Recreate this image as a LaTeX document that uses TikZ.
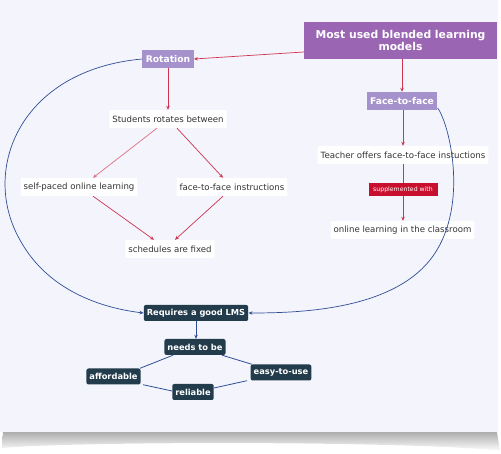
\documentclass[tikz,border=0pt]{standalone}
\usepackage{fontspec}
\setmainfont{DejaVu Sans}
\usetikzlibrary{arrows.meta,positioning}
\definecolor{bgpanel}{HTML}{F3F4FC}
\definecolor{titlepurple}{HTML}{9A66B4}
\definecolor{subpurple}{HTML}{A592CC}
\definecolor{darkbox}{HTML}{233C4C}
\definecolor{linkred}{HTML}{D0334F}
\definecolor{labelred}{HTML}{C8102E}
\definecolor{linkblue}{HTML}{2F4F95}
\definecolor{txtgray}{HTML}{333333}
\tikzset{
  titlebox/.style={fill=titlepurple,text=white,font=\bfseries\fontsize{10.8}{12.5}\selectfont,align=center,minimum width=193pt,minimum height=37pt,inner sep=2pt},
  purplebox/.style={fill=subpurple,text=white,font=\bfseries\fontsize{9.2}{10}\selectfont,inner sep=3.5pt,minimum height=18pt},
  plainbox/.style={fill=white,text=txtgray,font=\fontsize{8.6}{10}\selectfont,inner sep=3pt,minimum height=18pt,rounded corners=1pt},
  darkbox/.style={fill=darkbox,text=white,font=\bfseries\fontsize{8.3}{10}\selectfont,inner sep=3pt,minimum height=16pt,rounded corners=2pt},
  redlabel/.style={fill=labelred,text=white,font=\fontsize{6.2}{7}\selectfont,inner sep=2pt,minimum height=13pt,minimum width=69pt},
  redarrow/.style={draw=linkred,line width=0.7pt,-{Stealth[length=4pt,width=3.5pt]}},
  bluearrow/.style={draw=linkblue,line width=0.7pt,-{Stealth[length=4pt,width=3.5pt]}},
  blueline/.style={draw=linkblue,line width=0.8pt},
}
\begin{document}
\begin{tikzpicture}[x=1pt,y=-1pt]
\useasboundingbox (0,0) rectangle (501,454);
% shadow
\shade[top color=black!32,bottom color=white] (3,432) -- (497,432) -- (500,451) .. controls (420,441) and (80,441) .. (2,448) -- cycle;
\fill[bgpanel] (0,0) rectangle (498,432);
% nodes
\node[titlebox] (title) at (400.5,40.5) {Most used blended learning\\models};
\node[purplebox] (rot) at (168,59) {Rotation};
\node[purplebox] (f2f) at (402,101) {Face-to-face};
\node[plainbox] (stud) at (168,119) {Students rotates between};
\node[plainbox] (self) at (79,187) {self-paced online learning};
\node[plainbox] (fins) at (232,187) {face-to-face instructions};
\node[plainbox] (sched) at (170,249) {schedules are fixed};
\node[plainbox] (teach) at (403,155) {Teacher offers face-to-face instuctions};
\node[plainbox] (online) at (402.5,230) {online learning in the classroom};
\node[darkbox] (lms) at (196,313) {Requires a good LMS};
\node[darkbox] (need) at (195,347) {needs to be};
\node[darkbox] (aff) at (113.5,376.5) {affordable};
\node[darkbox] (easy) at (281,372.5) {easy-to-use};
\node[darkbox] (rel) at (193,392) {reliable};
% red connectors
\draw[redarrow] (title.west|-0,52) -- (rot.east);
\draw[redarrow] (title.south-|f2f) -- (f2f.north);
\draw[redarrow] (rot.south) -- (stud.north);
\draw[redarrow,draw=linkred!70] (stud.south-|157,0) -- (self.north-|93,0);
\draw[redarrow] (stud.south-|177,0) -- (fins.north-|223,0);
\draw[redarrow] (self.south-|93,0) -- (sched.north-|154,0);
\draw[redarrow] (fins.south-|223,0) -- (sched.north-|175,0);
\draw[redarrow] (f2f.south-|403,0) -- (teach.north-|403,0);
\draw[redarrow] (teach.south-|403,0) -- node[redlabel,pos=0.45] (supp) {supplemented with} (online.north-|403,0);
% blue curves
\draw[bluearrow] (rot.west) .. controls (20,70) and (-20,170) .. (20,240) .. controls (50,295) and (110,309) .. (lms.west);
\draw[bluearrow] (f2f.east|-0,108) .. controls (450,125) and (470,210) .. (430,260) .. controls (390,310) and (300,313) .. (lms.east);
\draw[bluearrow] (lms.south) -- (need.north-|lms.south);
% dark links
\draw[blueline] (need.south west-|173,0) -- (aff.north east-|140,0);
\draw[blueline] (need.south east-|222,0) -- (easy.north west-|252,0);
\draw[blueline] (aff.south east-|143,0) -- (rel.west|-0,391);
\draw[blueline] (easy.south west-|247,0) -- (rel.east|-0,388);
\end{tikzpicture}
\end{document}
